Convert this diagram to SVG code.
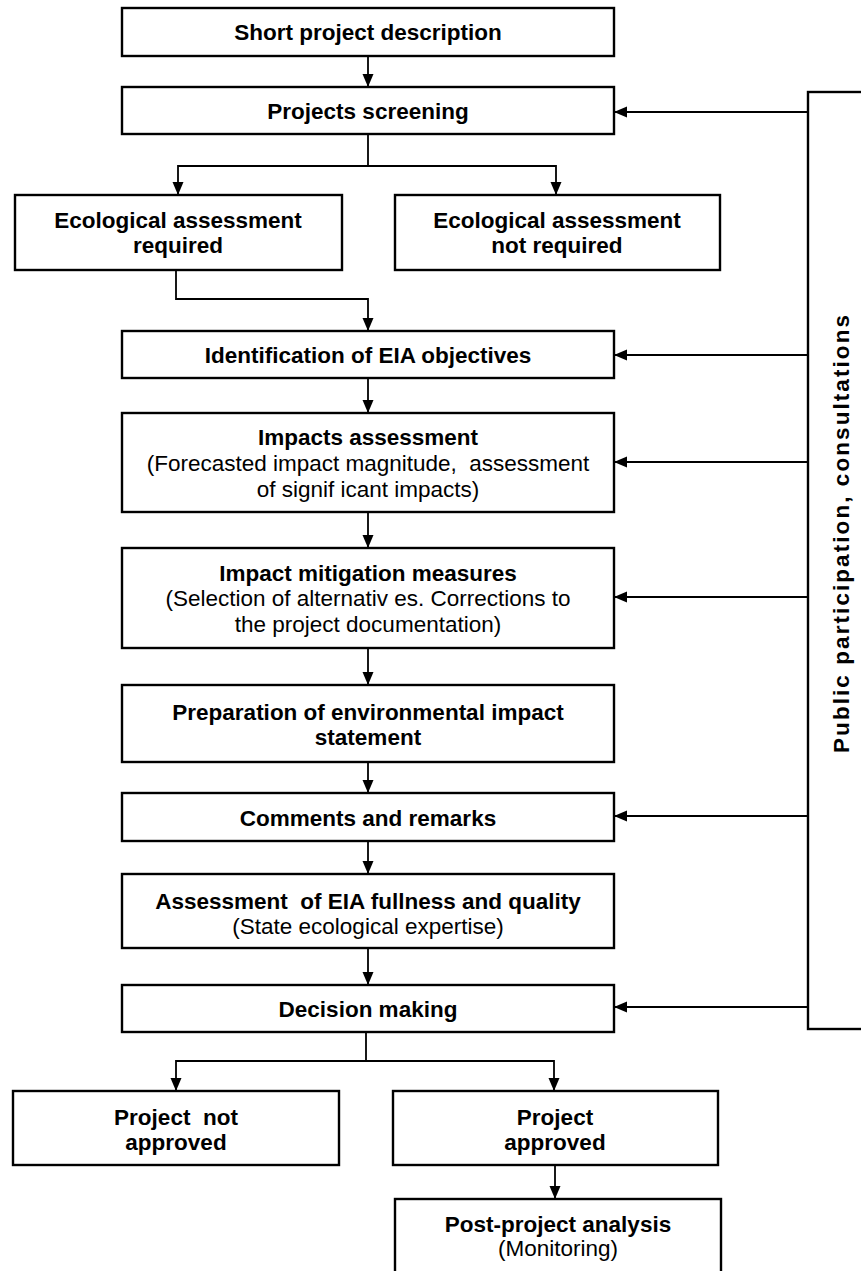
<svg xmlns="http://www.w3.org/2000/svg" width="861" height="1271" viewBox="0 0 861 1271">
<style>
  .box { fill: #ffffff; stroke: #000000; stroke-width: 2.4; }
  .ln { fill: none; stroke: #000000; stroke-width: 1.8; }
  .arr { fill: none; stroke: #000000; stroke-width: 1.8; marker-end: url(#ah); }
  text { font-family: "Liberation Sans", Arial, sans-serif; font-size: 22.5px; fill: #000000; text-anchor: middle; }
  .b { font-weight: bold; }
</style>
<defs>
  <marker id="ah" markerWidth="14" markerHeight="12" refX="13" refY="5.5" orient="auto" markerUnits="userSpaceOnUse">
    <path d="M0,0 L13,5.5 L0,11 Z" fill="#000000"/>
  </marker>
</defs>
<rect width="861" height="1271" fill="#ffffff"/>

<g id="connectors">
  <line class="arr" x1="368" y1="56" x2="368" y2="87"/>
  <polyline class="ln" points="368,134 368,166"/>
  <polyline class="arr" points="368,166 178,166 178,195"/>
  <polyline class="arr" points="368,166 556,166 556,195"/>
  <polyline class="arr" points="176,270 176,299 368,299 368,331"/>
  <line class="arr" x1="368" y1="378" x2="368" y2="413"/>
  <line class="arr" x1="368" y1="512" x2="368" y2="548"/>
  <line class="arr" x1="368" y1="648" x2="368" y2="685"/>
  <line class="arr" x1="368" y1="762" x2="368" y2="793"/>
  <line class="arr" x1="368" y1="841" x2="368" y2="874"/>
  <line class="arr" x1="368" y1="948" x2="368" y2="985"/>
  <polyline class="ln" points="366,1032 366,1062"/>
  <polyline class="arr" points="366,1061 176,1061 176,1091"/>
  <polyline class="arr" points="366,1061 554,1061 554,1091"/>
  <line class="arr" x1="555" y1="1165" x2="555" y2="1199"/>
  <line class="arr" x1="808" y1="112" x2="614" y2="112"/>
  <line class="arr" x1="808" y1="355" x2="614" y2="355"/>
  <line class="arr" x1="808" y1="462" x2="614" y2="462"/>
  <line class="arr" x1="808" y1="597" x2="614" y2="597"/>
  <line class="arr" x1="808" y1="816" x2="614" y2="816"/>
  <line class="arr" x1="808" y1="1007" x2="614" y2="1007"/>
</g>

<g id="n-short">
  <rect class="box" x="122" y="8" width="492" height="48"/>
  <text class="b" x="368" y="40">Short project description</text>
</g>
<g id="n-screening">
  <rect class="box" x="122" y="87" width="492" height="47"/>
  <text class="b" x="368" y="119">Projects screening</text>
</g>
<g id="n-required">
  <rect class="box" x="15" y="195" width="327" height="75"/>
  <text class="b" x="178" y="228">Ecological assessment</text>
  <text class="b" x="178" y="253">required</text>
</g>
<g id="n-notrequired">
  <rect class="box" x="395" y="195" width="325" height="75"/>
  <text class="b" x="557" y="228">Ecological assessment</text>
  <text class="b" x="557" y="253">not required</text>
</g>
<g id="n-identification">
  <rect class="box" x="122" y="331" width="492" height="47"/>
  <text class="b" x="368" y="363">Identification of EIA objectives</text>
</g>
<g id="n-impacts">
  <rect class="box" x="122" y="413" width="492" height="99"/>
  <text class="b" x="368" y="445">Impacts assessment</text>
  <text x="368" y="471" xml:space="preserve">(Forecasted impact magnitude,  assessment</text>
  <text x="368" y="497">of signif icant impacts)</text>
</g>
<g id="n-mitigation">
  <rect class="box" x="122" y="548" width="492" height="100"/>
  <text class="b" x="368" y="581">Impact mitigation measures</text>
  <text x="368" y="606">(Selection of alternativ es. Corrections to</text>
  <text x="368" y="632">the project documentation)</text>
</g>
<g id="n-preparation">
  <rect class="box" x="122" y="685" width="492" height="77"/>
  <text class="b" x="368" y="720">Preparation of environmental impact</text>
  <text class="b" x="368" y="745">statement</text>
</g>
<g id="n-comments">
  <rect class="box" x="122" y="793" width="492" height="48"/>
  <text class="b" x="368" y="826">Comments and remarks</text>
</g>
<g id="n-quality">
  <rect class="box" x="122" y="874" width="492" height="74"/>
  <text class="b" x="368" y="909" xml:space="preserve">Assessment  of EIA fullness and quality</text>
  <text x="368" y="934">(State ecological expertise)</text>
</g>
<g id="n-decision">
  <rect class="box" x="122" y="985" width="492" height="47"/>
  <text class="b" x="368" y="1017">Decision making</text>
</g>
<g id="n-notapproved">
  <rect class="box" x="13" y="1091" width="326" height="74"/>
  <text class="b" x="176" y="1125" xml:space="preserve">Project  not</text>
  <text class="b" x="176" y="1150">approved</text>
</g>
<g id="n-approved">
  <rect class="box" x="393" y="1091" width="325" height="74"/>
  <text class="b" x="555" y="1125">Project</text>
  <text class="b" x="555" y="1150">approved</text>
</g>
<g id="n-post">
  <rect class="box" x="395" y="1199" width="326" height="80"/>
  <text class="b" x="558" y="1232">Post-project analysis</text>
  <text x="558" y="1256">(Monitoring)</text>
</g>
<g id="n-public">
  <rect class="box" x="808" y="92" width="80" height="937"/>
  <text class="b" transform="translate(849,534) rotate(-90)" x="0" y="0" textLength="438" lengthAdjust="spacing">Public participation, consultations</text>
</g>
</svg>
